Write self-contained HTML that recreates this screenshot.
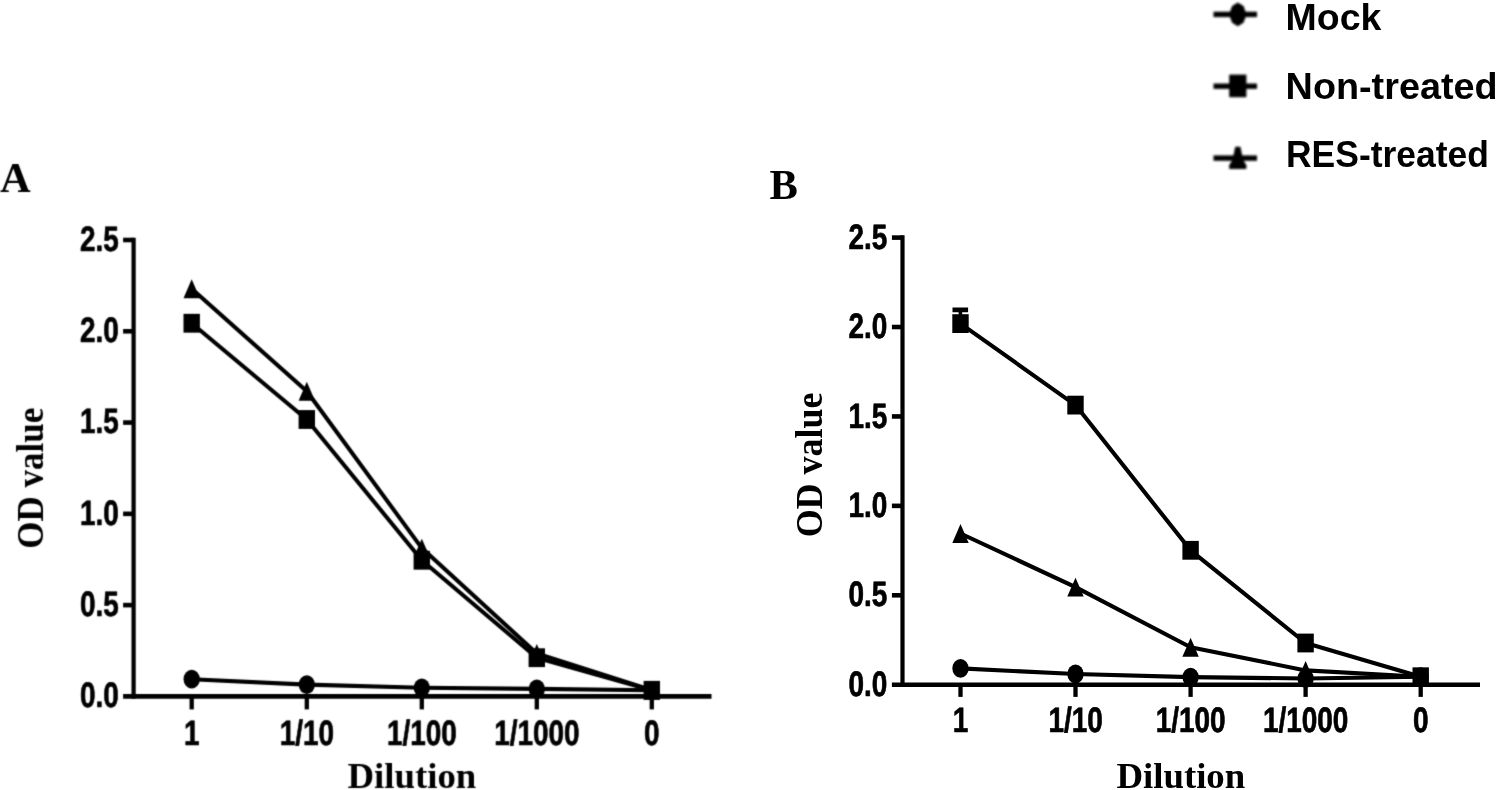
<!DOCTYPE html>
<html lang="en"><head><meta charset="utf-8"><title>OD value vs Dilution</title>
<style>
html,body{margin:0;padding:0;background:#fff;}
body{width:1496px;height:790px;overflow:hidden;}
svg{display:block;}
text{fill:#000;}
</style></head><body>
<svg width="1496" height="790" viewBox="0 0 1496 790">
<rect width="1496" height="790" fill="#fff"/>
<defs><filter id="blur" x="-20%" y="-40%" width="140%" height="180%"><feGaussianBlur stdDeviation="1.25"/></filter>
<filter id="softA" x="-2%" y="-2%" width="104%" height="104%" color-interpolation-filters="sRGB"><feConvolveMatrix order="3" kernelMatrix="1 4 1 4 16 4 1 4 1" divisor="36" edgeMode="none" preserveAlpha="false"/></filter></defs>

<g id="panelA" filter="url(#softA)">
<text transform="translate(0.00,191.90)" font-family='"Liberation Serif", "Times New Roman", serif' font-size="42.5" font-weight="bold" text-anchor="start">A</text>
<text transform="translate(42.60,478.25) rotate(-90) scale(0.9600,1.0600)" font-family='"Liberation Serif", "Times New Roman", serif' font-size="36.5" font-weight="bold" text-anchor="middle">OD value</text>
<text transform="translate(411.90,788.10)" font-family='"Liberation Serif", "Times New Roman", serif' font-size="36.8" font-weight="bold" text-anchor="middle">Dilution</text>
<line x1="133.60" y1="237.70" x2="133.60" y2="698.77" stroke="#000" stroke-width="4.25" stroke-linecap="butt"/>
<line x1="123.10" y1="696.40" x2="711.50" y2="696.40" stroke="#000" stroke-width="4.75" stroke-linecap="butt"/>
<line x1="123.10" y1="240.00" x2="133.60" y2="240.00" stroke="#000" stroke-width="4.6" stroke-linecap="butt"/>
<text transform="translate(118.65,250.80) rotate(0.03) scale(0.7900,1.0000)" font-family='"Liberation Sans", Arial, sans-serif' font-size="35.3" font-weight="bold" text-anchor="end" stroke="#000" stroke-width="0.7" stroke-linejoin="round">2.5</text>
<line x1="123.10" y1="331.28" x2="133.60" y2="331.28" stroke="#000" stroke-width="4.6" stroke-linecap="butt"/>
<text transform="translate(118.65,342.08) rotate(0.03) scale(0.7900,1.0000)" font-family='"Liberation Sans", Arial, sans-serif' font-size="35.3" font-weight="bold" text-anchor="end" stroke="#000" stroke-width="0.7" stroke-linejoin="round">2.0</text>
<line x1="123.10" y1="422.56" x2="133.60" y2="422.56" stroke="#000" stroke-width="4.6" stroke-linecap="butt"/>
<text transform="translate(118.65,433.36) rotate(0.03) scale(0.7900,1.0000)" font-family='"Liberation Sans", Arial, sans-serif' font-size="35.3" font-weight="bold" text-anchor="end" stroke="#000" stroke-width="0.7" stroke-linejoin="round">1.5</text>
<line x1="123.10" y1="513.84" x2="133.60" y2="513.84" stroke="#000" stroke-width="4.6" stroke-linecap="butt"/>
<text transform="translate(118.65,524.64) rotate(0.03) scale(0.7900,1.0000)" font-family='"Liberation Sans", Arial, sans-serif' font-size="35.3" font-weight="bold" text-anchor="end" stroke="#000" stroke-width="0.7" stroke-linejoin="round">1.0</text>
<line x1="123.10" y1="605.12" x2="133.60" y2="605.12" stroke="#000" stroke-width="4.6" stroke-linecap="butt"/>
<text transform="translate(118.65,615.92) rotate(0.03) scale(0.7900,1.0000)" font-family='"Liberation Sans", Arial, sans-serif' font-size="35.3" font-weight="bold" text-anchor="end" stroke="#000" stroke-width="0.7" stroke-linejoin="round">0.5</text>
<text transform="translate(118.65,707.20) rotate(0.03) scale(0.7900,1.0000)" font-family='"Liberation Sans", Arial, sans-serif' font-size="35.3" font-weight="bold" text-anchor="end" stroke="#000" stroke-width="0.7" stroke-linejoin="round">0.0</text>
<line x1="191.70" y1="696.40" x2="191.70" y2="709.40" stroke="#000" stroke-width="4.3" stroke-linecap="butt"/>
<text transform="translate(191.70,745.30) rotate(0.03) scale(0.7900,1.0000)" font-family='"Liberation Sans", Arial, sans-serif' font-size="35.3" font-weight="bold" text-anchor="middle" stroke="#000" stroke-width="0.7" stroke-linejoin="round">1</text>
<line x1="306.80" y1="696.40" x2="306.80" y2="709.40" stroke="#000" stroke-width="4.3" stroke-linecap="butt"/>
<text transform="translate(306.80,745.30) rotate(0.03) scale(0.7900,1.0000)" font-family='"Liberation Sans", Arial, sans-serif' font-size="35.3" font-weight="bold" text-anchor="middle" stroke="#000" stroke-width="0.7" stroke-linejoin="round">1/10</text>
<line x1="421.80" y1="696.40" x2="421.80" y2="709.40" stroke="#000" stroke-width="4.3" stroke-linecap="butt"/>
<text transform="translate(421.80,745.30) rotate(0.03) scale(0.7900,1.0000)" font-family='"Liberation Sans", Arial, sans-serif' font-size="35.3" font-weight="bold" text-anchor="middle" stroke="#000" stroke-width="0.7" stroke-linejoin="round">1/100</text>
<line x1="536.80" y1="696.40" x2="536.80" y2="709.40" stroke="#000" stroke-width="4.3" stroke-linecap="butt"/>
<text transform="translate(536.80,745.30) rotate(0.03) scale(0.7900,1.0000)" font-family='"Liberation Sans", Arial, sans-serif' font-size="35.3" font-weight="bold" text-anchor="middle" stroke="#000" stroke-width="0.7" stroke-linejoin="round">1/1000</text>
<line x1="651.80" y1="696.40" x2="651.80" y2="709.40" stroke="#000" stroke-width="4.3" stroke-linecap="butt"/>
<text transform="translate(651.80,745.30) rotate(0.03) scale(0.7900,1.0000)" font-family='"Liberation Sans", Arial, sans-serif' font-size="35.3" font-weight="bold" text-anchor="middle" stroke="#000" stroke-width="0.7" stroke-linejoin="round">0</text>
<polyline points="191.70,679.20 306.80,684.60 421.80,687.80 536.80,688.90 651.80,690.30" fill="none" stroke="#000" stroke-width="4.1" stroke-linejoin="round" stroke-linecap="round"/>
<polyline points="191.70,288.75 306.80,391.25 421.80,548.10 536.80,653.40 651.80,690.30" fill="none" stroke="#000" stroke-width="4.1" stroke-linejoin="round" stroke-linecap="round"/>
<polyline points="191.70,323.25 306.80,419.50 421.80,560.25 536.80,657.70 651.80,690.30" fill="none" stroke="#000" stroke-width="4.1" stroke-linejoin="round" stroke-linecap="round"/>
<ellipse cx="191.70" cy="679.20" rx="8.15" ry="9.4" fill="#000"/>
<ellipse cx="306.80" cy="684.60" rx="8.15" ry="9.4" fill="#000"/>
<ellipse cx="421.80" cy="687.80" rx="8.15" ry="9.4" fill="#000"/>
<ellipse cx="536.80" cy="688.90" rx="8.15" ry="9.4" fill="#000"/>
<ellipse cx="651.80" cy="690.30" rx="8.15" ry="9.4" fill="#000"/>
<polygon points="191.70,279.35 199.90,298.15 183.50,298.15" fill="#000"/>
<polygon points="306.80,381.85 315.00,400.65 298.60,400.65" fill="#000"/>
<polygon points="421.80,538.70 430.00,557.50 413.60,557.50" fill="#000"/>
<polygon points="536.80,644.00 545.00,662.80 528.60,662.80" fill="#000"/>
<polygon points="651.80,680.90 660.00,699.70 643.60,699.70" fill="#000"/>
<rect x="183.50" y="313.85" width="16.4" height="18.8" fill="#000"/>
<rect x="298.60" y="410.10" width="16.4" height="18.8" fill="#000"/>
<rect x="413.60" y="550.85" width="16.4" height="18.8" fill="#000"/>
<rect x="528.60" y="648.30" width="16.4" height="18.8" fill="#000"/>
<rect x="643.60" y="680.90" width="16.4" height="18.8" fill="#000"/>
</g>
<g id="panelB">
<text transform="translate(769.50,198.75)" font-family='"Liberation Serif", "Times New Roman", serif' font-size="42.5" font-weight="bold" text-anchor="start">B</text>
<text transform="translate(821.50,465.00) rotate(-90) scale(0.9850,1.0600)" font-family='"Liberation Serif", "Times New Roman", serif' font-size="36.5" font-weight="bold" text-anchor="middle">OD value</text>
<text transform="translate(1180.80,788.40)" font-family='"Liberation Serif", "Times New Roman", serif' font-size="36.8" font-weight="bold" text-anchor="middle">Dilution</text>
<line x1="902.50" y1="235.30" x2="902.50" y2="686.95" stroke="#000" stroke-width="4.2" stroke-linecap="butt"/>
<line x1="891.90" y1="684.70" x2="1480.00" y2="684.70" stroke="#000" stroke-width="4.5" stroke-linecap="butt"/>
<line x1="891.90" y1="237.60" x2="902.50" y2="237.60" stroke="#000" stroke-width="4.6" stroke-linecap="butt"/>
<text transform="translate(887.15,248.70) rotate(0.03) scale(0.7900,1.0000)" font-family='"Liberation Sans", Arial, sans-serif' font-size="35.3" font-weight="bold" text-anchor="end" stroke="#000" stroke-width="0.7" stroke-linejoin="round">2.5</text>
<line x1="891.90" y1="327.02" x2="902.50" y2="327.02" stroke="#000" stroke-width="4.6" stroke-linecap="butt"/>
<text transform="translate(887.15,338.12) rotate(0.03) scale(0.7900,1.0000)" font-family='"Liberation Sans", Arial, sans-serif' font-size="35.3" font-weight="bold" text-anchor="end" stroke="#000" stroke-width="0.7" stroke-linejoin="round">2.0</text>
<line x1="891.90" y1="416.44" x2="902.50" y2="416.44" stroke="#000" stroke-width="4.6" stroke-linecap="butt"/>
<text transform="translate(887.15,427.54) rotate(0.03) scale(0.7900,1.0000)" font-family='"Liberation Sans", Arial, sans-serif' font-size="35.3" font-weight="bold" text-anchor="end" stroke="#000" stroke-width="0.7" stroke-linejoin="round">1.5</text>
<line x1="891.90" y1="505.86" x2="902.50" y2="505.86" stroke="#000" stroke-width="4.6" stroke-linecap="butt"/>
<text transform="translate(887.15,516.96) rotate(0.03) scale(0.7900,1.0000)" font-family='"Liberation Sans", Arial, sans-serif' font-size="35.3" font-weight="bold" text-anchor="end" stroke="#000" stroke-width="0.7" stroke-linejoin="round">1.0</text>
<line x1="891.90" y1="595.28" x2="902.50" y2="595.28" stroke="#000" stroke-width="4.6" stroke-linecap="butt"/>
<text transform="translate(887.15,606.38) rotate(0.03) scale(0.7900,1.0000)" font-family='"Liberation Sans", Arial, sans-serif' font-size="35.3" font-weight="bold" text-anchor="end" stroke="#000" stroke-width="0.7" stroke-linejoin="round">0.5</text>
<text transform="translate(887.15,695.80) rotate(0.03) scale(0.7900,1.0000)" font-family='"Liberation Sans", Arial, sans-serif' font-size="35.3" font-weight="bold" text-anchor="end" stroke="#000" stroke-width="0.7" stroke-linejoin="round">0.0</text>
<line x1="960.50" y1="684.70" x2="960.50" y2="696.90" stroke="#000" stroke-width="4.3" stroke-linecap="butt"/>
<text transform="translate(960.50,731.95) rotate(0.03) scale(0.7900,1.0000)" font-family='"Liberation Sans", Arial, sans-serif' font-size="35.3" font-weight="bold" text-anchor="middle" stroke="#000" stroke-width="0.7" stroke-linejoin="round">1</text>
<line x1="1075.50" y1="684.70" x2="1075.50" y2="696.90" stroke="#000" stroke-width="4.3" stroke-linecap="butt"/>
<text transform="translate(1075.50,731.95) rotate(0.03) scale(0.7900,1.0000)" font-family='"Liberation Sans", Arial, sans-serif' font-size="35.3" font-weight="bold" text-anchor="middle" stroke="#000" stroke-width="0.7" stroke-linejoin="round">1/10</text>
<line x1="1190.60" y1="684.70" x2="1190.60" y2="696.90" stroke="#000" stroke-width="4.3" stroke-linecap="butt"/>
<text transform="translate(1190.60,731.95) rotate(0.03) scale(0.7900,1.0000)" font-family='"Liberation Sans", Arial, sans-serif' font-size="35.3" font-weight="bold" text-anchor="middle" stroke="#000" stroke-width="0.7" stroke-linejoin="round">1/100</text>
<line x1="1305.60" y1="684.70" x2="1305.60" y2="696.90" stroke="#000" stroke-width="4.3" stroke-linecap="butt"/>
<text transform="translate(1305.60,731.95) rotate(0.03) scale(0.7900,1.0000)" font-family='"Liberation Sans", Arial, sans-serif' font-size="35.3" font-weight="bold" text-anchor="middle" stroke="#000" stroke-width="0.7" stroke-linejoin="round">1/1000</text>
<line x1="1420.70" y1="684.70" x2="1420.70" y2="696.90" stroke="#000" stroke-width="4.3" stroke-linecap="butt"/>
<text transform="translate(1420.70,731.95) rotate(0.03) scale(0.7900,1.0000)" font-family='"Liberation Sans", Arial, sans-serif' font-size="35.3" font-weight="bold" text-anchor="middle" stroke="#000" stroke-width="0.7" stroke-linejoin="round">0</text>
<polyline points="960.50,668.40 1075.50,674.00 1190.60,677.10 1305.60,678.50 1420.70,676.75" fill="none" stroke="#000" stroke-width="4.1" stroke-linejoin="round" stroke-linecap="round"/>
<polyline points="960.50,533.50 1075.50,587.10 1190.60,647.25 1305.60,670.40 1420.70,676.75" fill="none" stroke="#000" stroke-width="4.1" stroke-linejoin="round" stroke-linecap="round"/>
<polyline points="960.50,323.60 1075.50,405.10 1190.60,550.30 1305.60,643.00 1420.70,676.75" fill="none" stroke="#000" stroke-width="4.1" stroke-linejoin="round" stroke-linecap="round"/>
<ellipse cx="960.50" cy="668.40" rx="8.15" ry="9.4" fill="#000"/>
<ellipse cx="1075.50" cy="674.00" rx="8.15" ry="9.4" fill="#000"/>
<ellipse cx="1190.60" cy="677.10" rx="8.15" ry="9.4" fill="#000"/>
<ellipse cx="1305.60" cy="678.50" rx="8.15" ry="9.4" fill="#000"/>
<ellipse cx="1420.70" cy="676.75" rx="8.15" ry="9.4" fill="#000"/>
<polygon points="960.50,524.10 968.70,542.90 952.30,542.90" fill="#000"/>
<polygon points="1075.50,577.70 1083.70,596.50 1067.30,596.50" fill="#000"/>
<polygon points="1190.60,637.85 1198.80,656.65 1182.40,656.65" fill="#000"/>
<polygon points="1305.60,661.00 1313.80,679.80 1297.40,679.80" fill="#000"/>
<polygon points="1420.70,667.35 1428.90,686.15 1412.50,686.15" fill="#000"/>
<rect x="952.5" y="307.5" width="15.6" height="4.75" fill="#000"/><rect x="958.6" y="309" width="3.6" height="8" fill="#000"/>
<rect x="952.30" y="314.20" width="16.4" height="18.8" fill="#000"/>
<rect x="1067.30" y="395.70" width="16.4" height="18.8" fill="#000"/>
<rect x="1182.40" y="540.90" width="16.4" height="18.8" fill="#000"/>
<rect x="1297.40" y="633.60" width="16.4" height="18.8" fill="#000"/>
<rect x="1412.50" y="667.35" width="16.4" height="18.8" fill="#000"/>
</g>
<g id="legend">
<text x="1285.6" y="30" font-family='"Liberation Sans", Arial, sans-serif' font-size="37.5" font-weight="bold" textLength="95.8" lengthAdjust="spacingAndGlyphs">Mock</text>
<text x="1285.6" y="98.5" font-family='"Liberation Sans", Arial, sans-serif' font-size="37.5" font-weight="bold" textLength="212" lengthAdjust="spacingAndGlyphs">Non-treated</text>
<text x="1286" y="167" font-family='"Liberation Sans", Arial, sans-serif' font-size="37.5" font-weight="bold" textLength="203" lengthAdjust="spacingAndGlyphs">RES-treated</text>
<g filter="url(#blur)">
<rect x="1213.5" y="11.70" width="43.5" height="5.4" fill="#000"/>
<rect x="1213.5" y="83.50" width="43.5" height="5.4" fill="#000"/>
<rect x="1213.5" y="155.40" width="43.5" height="5.4" fill="#000"/>
<polygon points="1237.8,2.6 1243.5,6 1246.6,14.4 1243.5,22.8 1237.8,26.2 1232.1,22.8 1229,14.4 1232.1,6" fill="#000"/>
<rect x="1229.2" y="74.6" width="17.2" height="22.6" fill="#000"/>
<polygon points="1235.2,146.8 1240.4,146.8 1243.1,160 1246.4,165 1246.4,169 1229.2,169 1229.2,165 1232.5,160" fill="#000"/>
</g></g>
</svg></body></html>
